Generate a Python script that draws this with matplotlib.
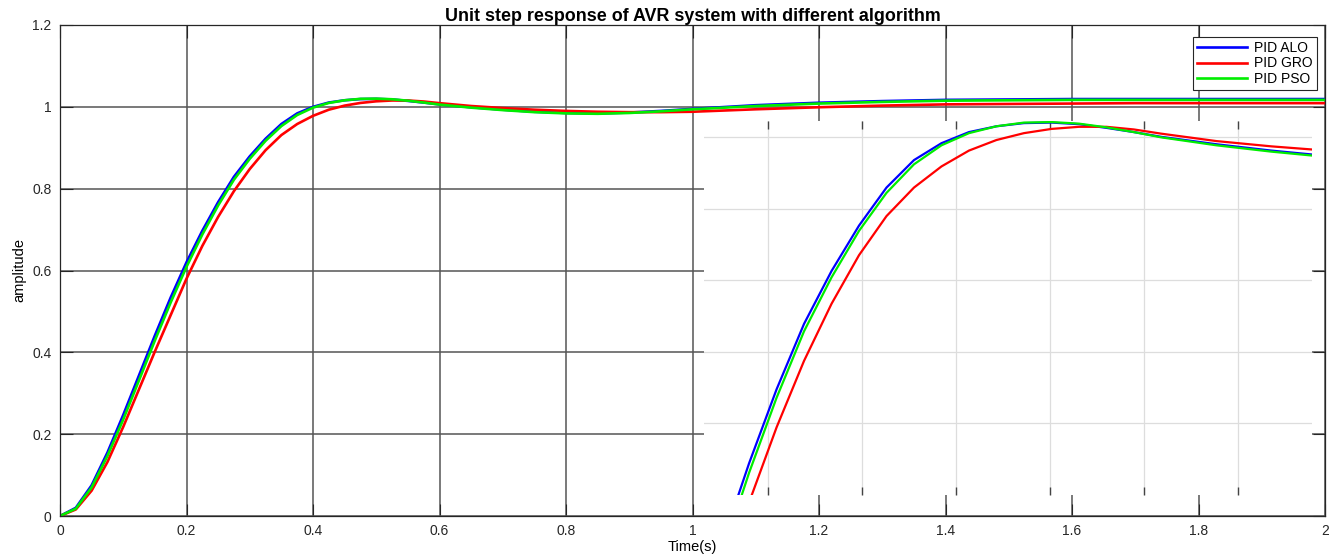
import numpy as np
import matplotlib
matplotlib.use("Agg")
import matplotlib.pyplot as plt

plt.rcParams["font.family"] = ["Liberation Sans", "DejaVu Sans"]

# time samples (s)
t = [0, 0.025, 0.05, 0.075, 0.1, 0.125, 0.15, 0.175, 0.2, 0.225, 0.25, 0.275,
     0.3, 0.325, 0.35, 0.375, 0.4, 0.425, 0.45, 0.475, 0.5, 0.525, 0.55, 0.575,
     0.6, 0.65, 0.7, 0.75, 0.8, 0.85, 0.9, 0.95, 1.0,
     1.1, 1.2, 1.3, 1.4, 1.5, 1.6, 1.7, 1.8, 1.9, 2.0]

pid_alo = [0, 0.02, 0.075, 0.155, 0.247, 0.344, 0.441, 0.534, 0.62, 0.697, 0.767, 0.829,
           0.879, 0.922, 0.958, 0.984, 1.0, 1.0105, 1.016, 1.019, 1.0195, 1.018, 1.0145, 1.0105,
           1.006, 0.999, 0.993, 0.988, 0.985, 0.984, 0.986, 0.990, 0.995,
           1.004, 1.010, 1.014, 1.017, 1.018, 1.019, 1.019, 1.019, 1.019, 1.019]

pid_gro = [0, 0.016, 0.062, 0.132, 0.218, 0.31, 0.402, 0.491, 0.58, 0.66, 0.731, 0.794,
           0.848, 0.894, 0.931, 0.958, 0.978, 0.993, 1.003, 1.0095, 1.0135, 1.0155, 1.0155, 1.013,
           1.009, 1.002, 0.997, 0.993, 0.990, 0.988, 0.987, 0.987, 0.988,
           0.994, 0.999, 1.003, 1.006, 1.007, 1.008, 1.009, 1.009, 1.009, 1.009]

pid_pso = [0, 0.018, 0.07, 0.147, 0.236, 0.332, 0.429, 0.522, 0.609, 0.688, 0.759, 0.822,
           0.873, 0.917, 0.953, 0.98, 0.998, 1.0095, 1.016, 1.0195, 1.020, 1.0185, 1.015, 1.0105,
           1.0055, 0.998, 0.992, 0.987, 0.984, 0.983, 0.985, 0.989, 0.994,
           1.002, 1.008, 1.012, 1.015, 1.016, 1.017, 1.017, 1.017, 1.017, 1.017]

labels = ["PID ALO", "PID GRO", "PID PSO"]
colors = ["#0000ff", "#ff0000", "#00ee00"]
series = [pid_alo, pid_gro, pid_pso]

W, H = 1329, 558
fig = plt.figure(figsize=(W / 100, H / 100), dpi=100)

# main axes (pixel box: x 60..1325, y 25..516)
ax = fig.add_axes([60 / W, 1 - 516 / H, 1265 / W, 491 / H])
for y, lab, c in zip(series, labels, colors):
    ax.plot(t, y, color=c, lw=1.9, label=lab)

ax.set_xlim(0, 2)
ax.set_ylim(0, 1.2)
ax.set_xticks(np.arange(0, 2.01, 0.2))
ax.set_yticks(np.arange(0, 1.21, 0.2))
ax.set_xticklabels(["0", "0.2", "0.4", "0.6", "0.8", "1", "1.2", "1.4", "1.6", "1.8", "2"])
ax.set_yticklabels(["0", "0.2", "0.4", "0.6", "0.8", "1", "1.2"])
ax.grid(True, color="#555555", lw=1.1)
ax.tick_params(direction="in", length=9, width=0.8, top=True, right=True,
               labelsize=10, colors="#262626", pad=6)
for s in ax.spines.values():
    s.set_color("#262626")
    s.set_linewidth(0.9)

ax.set_title("Unit step response of AVR system with different algorithm",
             fontsize=12.9, fontweight="bold", pad=3)
ax.set_xlabel("Time(s)", fontsize=10.5, labelpad=1)
ax.set_ylabel("amplitude", fontsize=10.5, labelpad=4)

leg = ax.legend(loc="upper right", bbox_to_anchor=(0.9955, 0.982), fontsize=10,
                handlelength=3.6, handletextpad=0.45, borderpad=0.3, labelspacing=0.12,
                fancybox=False, framealpha=1, borderaxespad=0.2)
leg.get_frame().set_edgecolor("#262626")
leg.get_frame().set_linewidth(0.8)

# zoomed inset (pixel box: x 704..1312, y 121..495)
axin = fig.add_axes([704 / W, 1 - 495 / H, 608 / W, 374 / H])
for y, c in zip(series, colors):
    axin.plot(t, y, color=c, lw=1.6)
x0, x1 = 0.184, 0.737
y0, y1 = 0.667, 1.021
axin.set_xlim(x0, x1)
axin.set_ylim(y0, y1)
xf = 0.105 + 0.1546 * np.arange(6)
yf = 0.1925 + 0.191 * np.arange(5)
axin.set_xticks(x0 + xf * (x1 - x0))
axin.set_yticks(y0 + yf * (y1 - y0))
axin.set_xticklabels([])
axin.set_yticklabels([])
axin.grid(True, color="#dddddd", lw=0.9)
axin.tick_params(axis="x", direction="in", length=6, width=1, top=True, bottom=True,
                 colors="#444444")
axin.tick_params(axis="y", length=0)
for s in axin.spines.values():
    s.set_visible(False)

fig.savefig("out.png", dpi=100)
